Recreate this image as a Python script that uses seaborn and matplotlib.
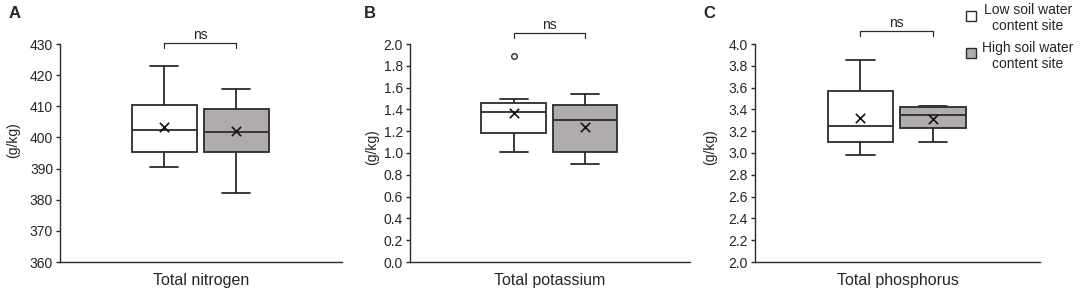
import matplotlib
matplotlib.use("Agg")
import matplotlib.pyplot as plt
import seaborn as sns
import pandas as pd
from matplotlib.patches import Rectangle

sns.set_style("ticks")
plt.rcParams['font.family'] = ['Liberation Sans', 'DejaVu Sans']

# ---- data ----
panels = ["A", "B", "C"]
nutrients = ["Total nitrogen", "Total potassium", "Total phosphorus"]
sites = ["Low soil water\ncontent site", "High soil water\ncontent site"]

# per panel: [low site, high site]
whisker_low = [[390.4, 382.0], [1.01, 0.90], [2.98, 3.10]]
q1 = [[395.3, 395.3], [1.18, 1.01], [3.10, 3.23]]
median = [[402.3, 401.8], [1.376, 1.30], [3.25, 3.35]]
q3 = [[410.3, 409.2], [1.456, 1.443], [3.568, 3.42]]
whisker_high = [[422.8, 415.7], [1.50, 1.545], [3.855, 3.43]]
means = [[403.4, 402.0], [1.364, 1.239], [3.324, 3.315]]
outliers = [[[], []], [[1.893], []], [[], []]]

y_min = [360, 0.0, 2.0]
y_max = [430, 2.0, 4.0]
y_step = [10, 0.2, 0.2]
y_fmt = ["{:.0f}", "{:.1f}", "{:.1f}"]
sig_labels = ["ns", "ns", "ns"]

# ---- layout ----
W, H = 1084, 293
fig = plt.figure(figsize=(W / 100, H / 100), dpi=100)
axes_px = [(60, 282), (410, 280), (755, 285)]
top_px, bot_px = 44, 262
bracket_px = [43, 33, 31]       # y pixel of bracket line
ylabel_px = [(20, 140), (379, 147), (717, 147)]
label_x_px = [9, 364, 703]
box_colors = ["white", "#b0acac"]
positions = [0.37, 0.625]
edge = "#2b2b2b"

for i in range(3):
    lx, w = axes_px[i]
    ax = fig.add_axes([lx / W, 1 - bot_px / H, w / W, (bot_px - top_px) / H])
    stats = []
    for j in range(2):
        stats.append(dict(whislo=whisker_low[i][j], q1=q1[i][j], med=median[i][j],
                          q3=q3[i][j], whishi=whisker_high[i][j],
                          fliers=outliers[i][j], mean=means[i][j]))
    bp = ax.bxp(stats, positions=positions, widths=0.23, patch_artist=True,
                showfliers=True, showmeans=False,
                boxprops=dict(edgecolor=edge, linewidth=1.3),
                medianprops=dict(color=edge, linewidth=1.3),
                whiskerprops=dict(color=edge, linewidth=1.3),
                capprops=dict(color=edge, linewidth=1.3),
                flierprops=dict(marker="o", markersize=4, markerfacecolor="white",
                                markeredgecolor=edge, markeredgewidth=1.0))
    for cap in bp["caps"]:
        x0, x1 = cap.get_xdata()
        c = (x0 + x1) / 2
        cap.set_xdata([c - 0.05, c + 0.05])
    for patch, col in zip(bp["boxes"], box_colors):
        patch.set_facecolor(col)
    mdf = pd.DataFrame({"x": positions, "y": means[i]})
    sns.scatterplot(data=mdf, x="x", y="y", marker="x", s=45, color="#111111",
                    linewidth=1.2, ax=ax, zorder=5)

    ax.set_xlim(0, 1)
    ax.set_ylim(y_min[i], y_max[i])
    n = int(round((y_max[i] - y_min[i]) / y_step[i]))
    ticks = [y_min[i] + k * y_step[i] for k in range(n + 1)]
    ax.set_yticks(ticks)
    ax.set_yticklabels([y_fmt[i].format(t) for t in ticks], fontsize=10)
    ax.set_xticks([])
    ax.set_xlabel(nutrients[i], fontsize=11.5, labelpad=8)
    ax.set_ylabel("(g/kg)", fontsize=10)
    lxp, lyp = ylabel_px[i]
    ax.yaxis.set_label_coords((lxp - lx) / w, (bot_px - lyp) / (bot_px - top_px))
    ax.tick_params(axis="y", direction="out", length=3, width=1, color=edge, pad=2)
    sns.despine(ax=ax)
    for s in ["left", "bottom"]:
        ax.spines[s].set_color(edge)
        ax.spines[s].set_linewidth(1.0)

    # significance bracket
    rng = y_max[i] - y_min[i]
    per_px = rng / (bot_px - top_px)
    yb = y_max[i] + (top_px - bracket_px[i]) * per_px
    yt = yb - 5 * per_px
    ax.plot([positions[0], positions[0], positions[1], positions[1]],
            [yt, yb, yb, yt], color=edge, lw=0.9, clip_on=False)
    ax.text(sum(positions) / 2, yb + 8 * per_px, sig_labels[i], ha="center",
            va="center", fontsize=10)

    fig.text(label_x_px[i] / W, 1 - 13 / H, panels[i], fontsize=12, fontweight="bold",
             ha="left", va="center")

# legend
for j in range(2):
    ysq = [16, 53][j]
    ytx = [18, 56][j]
    fig.patches.append(Rectangle((966 / W, 1 - (ysq + 5) / H), 10 / W, 10 / H,
                                 transform=fig.transFigure, facecolor=box_colors[j],
                                 edgecolor=edge, linewidth=1.0))
    fig.text(1028 / W, 1 - ytx / H, sites[j], ha="center", va="center",
             fontsize=10, linespacing=1.25)

fig.savefig("out.png", dpi=100)
